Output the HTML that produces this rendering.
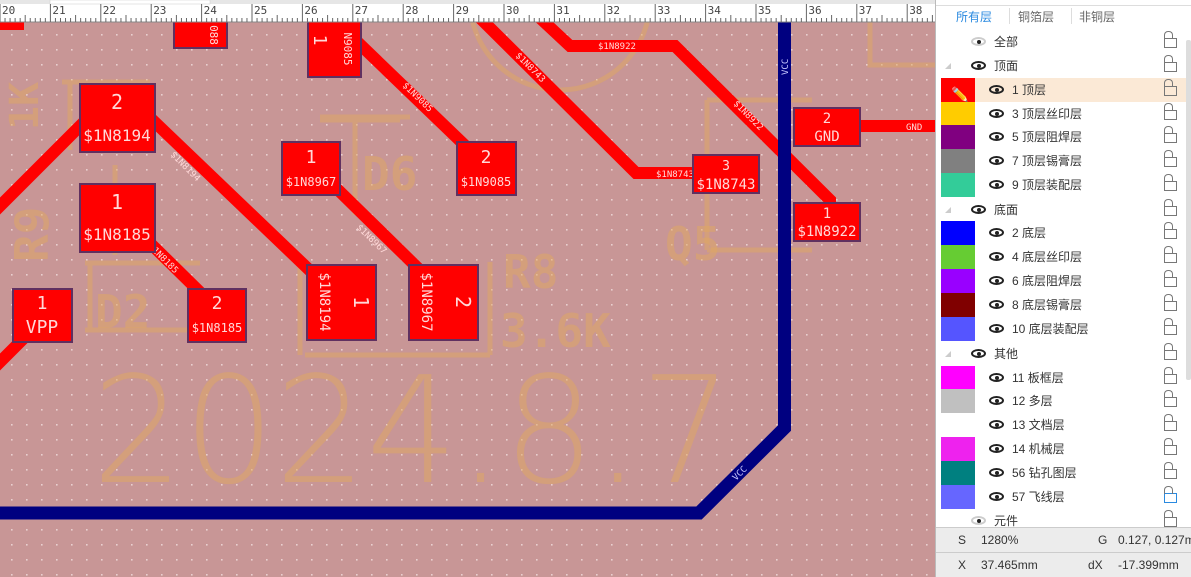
<!DOCTYPE html>
<html><head><meta charset="utf-8"><style>
body{margin:0;width:1191px;height:577px;overflow:hidden;background:#fff;position:relative;font-family:"Liberation Sans","Noto Sans CJK SC",sans-serif}
#cv{position:absolute;left:0;top:0}
#panel{position:absolute;left:935px;top:0;width:256px;height:577px;background:#fff;border-left:1px solid #bbb}
.row{position:absolute;left:5px;width:246px;height:24px;font-size:12px;color:#333;line-height:24px}
.sw{position:absolute;left:0;top:0;width:34px;height:24px}
.eye{position:absolute;top:7px;width:15px;height:9px;border:2px solid #222;border-radius:50%;box-sizing:border-box}
.eye:after{content:"";position:absolute;left:3.5px;top:0.5px;width:4px;height:4px;background:#222;border-radius:50%}
.lk{position:absolute;left:223px;top:8px;width:13px;height:10px;border:1px solid #777;box-sizing:border-box}
.lk:before{content:"";position:absolute;left:-1px;top:-8px;width:7px;height:7px;border:1px solid #777;border-bottom:none;border-radius:4px 4px 0 0}
.tri{position:absolute;left:4px;top:9px;width:0;height:0;border-left:6px solid transparent;border-bottom:6px solid #ccc}
.st{position:absolute;left:0;width:256px;height:24px;background:#ececec;font-size:12px;color:#333;line-height:24px;border-top:1px solid #ccc;white-space:nowrap;overflow:hidden}
.st span{white-space:nowrap}
</style></head><body>
<svg id="cv" width="935" height="577" viewBox="0 0 935 577" font-family="DejaVu Sans Mono, Liberation Mono, monospace">
<defs><pattern id="dots" x="11" y="4" width="15" height="15" patternUnits="userSpaceOnUse"><rect x="0" y="0" width="1.6" height="1.6" fill="#e8d0d0"/></pattern></defs>
<rect x="0" y="22" width="935" height="555" fill="#c89696"/>
<rect x="0" y="22" width="935" height="555" fill="url(#dots)"/>
<g fill="none" stroke="#e0a860" stroke-opacity="0.5" stroke-width="5">
<circle cx="560" cy="0" r="90"/>
<path d="M70 82 V150 M62 82 H150 M115 165 V255 M85 263 H200 M90 263 V330 M85 330 H200 M300 160 V195 M320 120 H400 M305 355 H490 M300 262 V355 M490 262 V355 M355 117 V215 M320 117 H410 M707 100 V250 M707 100 H812 M707 250 H812 M870 22 V65 H935"/>
</g>
<g fill="#e0a860" fill-opacity="0.5" font-family="DejaVu Sans Mono, monospace">
<text x="362" y="190" font-size="46" font-weight="bold">D6</text>
<text x="95" y="328" font-size="46" font-weight="bold">D2</text>
<text x="503" y="288" font-size="46" font-weight="bold">R8</text>
<text x="500" y="347" font-size="46" font-weight="bold">3.6K</text>
<text x="665" y="260" font-size="46" font-weight="bold">Q5</text>
<text x="0" y="0" font-size="46" font-weight="bold" transform="translate(48,262) rotate(-90)">R9</text>
<text x="0" y="0" font-size="40" font-weight="bold" transform="translate(38,130) rotate(-90)">1K</text>
<text x="92" y="482" font-size="148" font-family="DejaVu Sans, sans-serif" font-weight="200" textLength="640" lengthAdjust="spacingAndGlyphs">2024.8.7</text>
</g>
<g stroke="#ff0000" stroke-width="12" fill="none" stroke-linejoin="miter">
<path d="M-10 216 L88 118"/>
<path d="M140 108 L325 285"/>
<path d="M150 243 L210 302"/>
<path d="M330 182 L428 278"/>
<path d="M345 30 L478 158"/>
<path d="M480 18 L636 173 H700"/>
<path d="M540 18 L570 46 H675 L830 200 V210"/>
<path d="M855 126 H935"/>
<path d="M32 330 L-10 372"/>
<path d="M0 24 H24"/>
</g>
<g fill="#ffd8d8" font-size="9">
<text transform="translate(170,155) rotate(45)">$1N8194</text>
<text transform="translate(356,228) rotate(44)">$1N8967</text>
<text transform="translate(402,86) rotate(44)">$1N9085</text>
<text transform="translate(515,56) rotate(45)">$1N8743</text>
<text transform="translate(148,247) rotate(45)">$1N8185</text>
<text transform="translate(733,104) rotate(45)">$1N8922</text>
<text x="598" y="49">$1N8922</text>
<text x="656" y="177">$1N8743</text>
<text x="906" y="130">GND</text>
<text x="118" y="121">$1N8194</text>
</g>
<path d="M784.5 22 V428 L699 513 H0" stroke="#000080" stroke-width="13" fill="none"/>
<text transform="translate(788,75) rotate(-90)" fill="#c8c8ff" font-size="9">VCC</text>
<text transform="translate(736,481) rotate(-45)" fill="#c8c8ff" font-size="9">VCC</text>
<g fill="#ff0000" stroke="#603060" stroke-width="2">
<rect x="174" y="18" width="53" height="30"/>
<rect x="308" y="18" width="53" height="59"/>
<rect x="80" y="84" width="75" height="68"/>
<rect x="80" y="184" width="75" height="68"/>
<rect x="282" y="142" width="58" height="53"/>
<rect x="457" y="142" width="59" height="53"/>
<rect x="693" y="155" width="66" height="38"/>
<rect x="794" y="108" width="66" height="38"/>
<rect x="794" y="203" width="66" height="38"/>
<rect x="13" y="289" width="59" height="53"/>
<rect x="188" y="289" width="58" height="53"/>
<rect x="307" y="265" width="69" height="75"/>
<rect x="409" y="265" width="69" height="75"/>
</g>
<g fill="#ffd8d8" text-anchor="middle">
<text transform="translate(210,35) rotate(90)" font-size="11">088</text>
<text transform="translate(314,40) rotate(90)" font-size="18">1</text>
<text transform="translate(344,49) rotate(90)" font-size="11">N9085</text>
<text x="117" y="109" font-size="20">2</text><text x="117" y="141" font-size="16">$1N8194</text>
<text x="117" y="209" font-size="20">1</text><text x="117" y="240" font-size="16">$1N8185</text>
<text x="311" y="163" font-size="18">1</text><text x="311" y="186" font-size="12">$1N8967</text>
<text x="486" y="163" font-size="18">2</text><text x="486" y="186" font-size="12">$1N9085</text>
<text x="726" y="170" font-size="13">3</text><text x="726" y="189" font-size="14">$1N8743</text>
<text x="827" y="123" font-size="14">2</text><text x="827" y="141" font-size="14">GND</text>
<text x="827" y="218" font-size="14">1</text><text x="827" y="236" font-size="14">$1N8922</text>
<text x="42" y="309" font-size="18">1</text><text x="42" y="333" font-size="18">VPP</text>
<text x="217" y="309" font-size="18">2</text><text x="217" y="332" font-size="12">$1N8185</text>
<text transform="translate(320,302) rotate(90)" font-size="14">$1N8194</text>
<text transform="translate(354,302) rotate(90)" font-size="20">1</text>
<text transform="translate(422,302) rotate(90)" font-size="14">$1N8967</text>
<text transform="translate(456,302) rotate(90)" font-size="20">2</text>
</g>
<rect x="0" y="0" width="935" height="22" fill="#fff"/>
<rect x="0" y="0" width="935" height="4" fill="#e6e6e6"/>
<rect x="50" y="0" width="160" height="4" fill="#fff" stroke="#ccc" stroke-width="0.5"/>
<path d="M0 22 H935" stroke="#888"/>
<g id="ticks" stroke="#666" stroke-width="1"></g>
<g font-size="11" fill="#444" font-family="DejaVu Sans Mono, monospace" id="rnum"></g>
</svg>
<div id="panel">
<div style="position:absolute;left:0;top:0;width:256px;height:5px;border-bottom:1px solid #ddd"></div>
<div style="position:absolute;left:20px;top:8px;font-size:12px;color:#2a8ae0">所有层</div>
<div style="position:absolute;left:73px;top:8px;height:16px;border-left:1px solid #ddd"></div>
<div style="position:absolute;left:82px;top:8px;font-size:12px;color:#666">铜箔层</div>
<div style="position:absolute;left:135px;top:8px;height:16px;border-left:1px solid #ddd"></div>
<div style="position:absolute;left:143px;top:8px;font-size:12px;color:#666">非铜层</div>
<div id="rows"></div>
<div style="position:absolute;left:250px;top:40px;width:5px;height:340px;background:#ddd;border-radius:2px"></div>
<div class="st" style="top:527px"><span style="position:absolute;left:22px">S</span><span style="position:absolute;left:45px">1280%</span><span style="position:absolute;left:162px">G</span><span style="position:absolute;left:182px">0.127, 0.127mm</span></div>
<div class="st" style="top:552px"><span style="position:absolute;left:22px">X</span><span style="position:absolute;left:45px">37.465mm</span><span style="position:absolute;left:152px">dX</span><span style="position:absolute;left:182px">-17.399mm</span></div>
</div>
<script>
var t=document.getElementById('ticks'),n=document.getElementById('rnum'),s='',m='';
for(var i=0;i<=19;i++){var x=i*50.4;s+='<path d="M'+x+' 4 V22"/>';m+='<text x="'+(x+2)+'" y="14">'+(20+i)+'</text>';for(var j=1;j<10;j++){var xx=x+j*5.04;s+='<path d="M'+xx+' '+(j==5?15:18)+' V22"/>';}}
t.innerHTML=s;n.innerHTML=m;
var rows=[['全部',42,'','g',0],['顶面',66,'','h',0],['1 顶层',90,'#ff0000','',1],['3 顶层丝印层',114,'#ffcc00'],['5 顶层阻焊层',137,'#800080'],['7 顶层锡膏层',161,'#808080'],['9 顶层装配层',185,'#33cc99'],['底面',210,'','h'],['2 底层',233,'#0000ff'],['4 底层丝印层',257,'#66cc33'],['6 底层阻焊层',281,'#9900ff'],['8 底层锡膏层',305,'#800000'],['10 底层装配层',329,'#5555ff'],['其他',354,'','h'],['11 板框层',378,'#ff00ff'],['12 多层',401,'#c0c0c0'],['13 文档层',425,'#ffffff'],['14 机械层',449,'#ee22ee'],['56 钻孔图层',473,'#008080'],['57 飞线层',497,'#6666ff'],['元件',521,'','g']];
var h='';rows.forEach(function(r){var top=r[1]-12,hd=r[3]=='h'||r[3]=='g';
h+='<div class="row" style="top:'+top+'px;'+(r[4]?'background:#fbe9d6;':'')+'">';
if(r[2])h+='<div class="sw" style="background:'+r[2]+'"></div>';
if(r[4])h+='<div style="position:absolute;left:10px;top:4px;font-size:14px">✏️</div>';
if(hd){if(r[3]=='h')h+='<div class="tri"></div>';h+='<div class="eye" style="left:30px;'+(r[3]=='g'?'border-color:#ccc':'')+'"></div><span style="position:absolute;left:53px">'+r[0]+'</span>';}
else h+='<div class="eye" style="left:48px"></div><span style="position:absolute;left:71px">'+r[0]+'</span>';
h+='<div class="lk" style="'+(r[0]=='57 飞线层'?'border-color:#2a8ae0':'')+'"></div></div>';});
document.getElementById('rows').innerHTML=h;
</script>
</body></html>
